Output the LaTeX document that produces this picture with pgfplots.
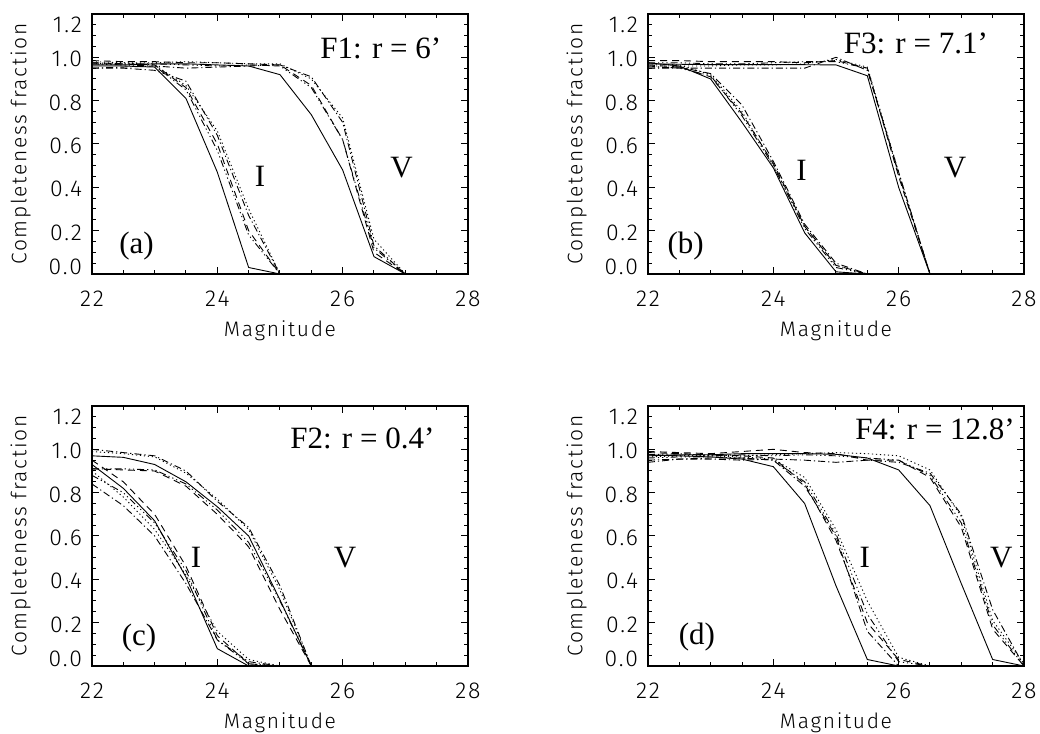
\documentclass[border=0pt]{standalone}
\usepackage{pgfplots}
\pgfplotsset{compat=1.18}
\usepackage{pgfplotstable}
\usepackage{fontspec}
\newfontfamily\idl{Fira Sans Light}[LetterSpace=8]
\newfontfamily\tms{Liberation Serif}

\newcommand\uplbl[1]{\raisebox{4.5pt}[\height][\depth]{#1}}
\newcommand\dnlbl[1]{\raisebox{-4.5pt}[\height][\depth]{#1}}

% columns: I and V bands, five curves each
% s = solid, d = dashed, a = dash-dot, o = dotted, x = dash-dot-dot-dot
\pgfplotstableread{
mag   Is    Id    Ia    Io    Ix    Vs    Vd    Va    Vo    Vx
22.0  0.960 0.975 0.950 0.980 0.970 0.965 0.985 0.950 0.970 0.975
22.5  0.960 0.970 0.950 0.975 0.965 0.965 0.980 0.955 0.975 0.970
23.0  0.955 0.965 0.940 0.965 0.960 0.970 0.980 0.960 0.975 0.970
23.5  0.810 0.860 0.890 0.870 0.850 0.970 0.975 0.950 0.980 0.965
24.0  0.470 0.600 0.640 0.660 0.570 0.965 0.975 0.955 0.975 0.960
24.5  0.030 0.200 0.270 0.300 0.180 0.960 0.970 0.960 0.970 0.965
25.0  0.000 0.000 0.000 0.000 0.000 0.920 0.965 0.965 0.970 0.960
25.5  0.000 0.000 0.000 0.000 0.000 0.735 0.870 0.910 0.900 0.860
26.0  0.000 0.000 0.000 0.000 0.000 0.480 0.620 0.700 0.720 0.620
26.5  0.000 0.000 0.000 0.000 0.000 0.080 0.100 0.130 0.160 0.120
27.0  0.000 0.000 0.000 0.000 0.000 0.000 0.000 0.000 0.000 0.000
28.0  0.000 0.000 0.000 0.000 0.000 0.000 0.000 0.000 0.000 0.000
}\fone

\pgfplotstableread{
mag   Is    Id    Ia    Io    Ix    Vs    Vd    Va    Vo    Vx
22.0  0.975 0.965 0.950 0.970 0.960 0.970 0.985 0.950 0.960 0.975
22.5  0.960 0.955 0.955 0.965 0.950 0.968 0.985 0.950 0.960 0.975
23.0  0.900 0.910 0.925 0.920 0.915 0.966 0.980 0.950 0.960 0.970
23.5  0.700 0.740 0.780 0.750 0.730 0.966 0.980 0.950 0.965 0.970
24.0  0.490 0.510 0.520 0.500 0.500 0.966 0.980 0.950 0.965 0.975
24.5  0.190 0.220 0.230 0.220 0.210 0.966 0.975 0.950 0.970 0.980
25.0  0.010 0.040 0.050 0.040 0.030 0.965 0.985 1.000 0.990 0.980
25.5  0.000 0.000 0.000 0.000 0.000 0.915 0.950 0.940 0.955 0.950
26.0  0.000 0.000 0.000 0.000 0.000 0.400 0.450 0.470 0.470 0.460
26.5  0.000 0.000 0.000 0.000 0.000 0.000 0.000 0.000 0.000 0.000
28.0  0.000 0.000 0.000 0.000 0.000 0.000 0.000 0.000 0.000 0.000
}\fthree

\pgfplotstableread{
mag   Is    Id    Ia    Io    Ix    Vs    Vd    Va    Vo    Vx
22.0  0.930 0.950 0.840 0.900 0.880 0.970 0.910 1.000 0.990 0.910
22.5  0.820 0.850 0.740 0.780 0.800 0.963 0.905 0.985 0.980 0.910
23.0  0.670 0.700 0.600 0.630 0.660 0.930 0.900 0.970 0.965 0.905
23.5  0.410 0.460 0.380 0.420 0.440 0.850 0.830 0.900 0.890 0.840
24.0  0.080 0.140 0.120 0.160 0.120 0.735 0.700 0.760 0.770 0.720
24.5  0.000 0.010 0.020 0.030 0.010 0.600 0.550 0.640 0.630 0.570
25.0  0.000 0.000 0.000 0.000 0.000 0.305 0.260 0.370 0.350 0.300
25.5  0.000 0.000 0.000 0.000 0.000 0.000 0.000 0.000 0.000 0.000
28.0  0.000 0.000 0.000 0.000 0.000 0.000 0.000 0.000 0.000 0.000
}\ftwo

\pgfplotstableread{
mag   Is    Id    Ia    Io    Ix    Vs    Vd    Va    Vo    Vx
22.0  0.975 0.985 0.950 0.970 0.960 0.970 0.990 0.940 0.965 0.975
22.5  0.970 0.980 0.955 0.970 0.965 0.975 0.985 0.955 0.970 0.980
23.0  0.965 0.975 0.960 0.970 0.965 0.975 0.980 0.955 0.975 0.970
23.5  0.955 0.970 0.960 0.965 0.960 0.980 0.990 0.950 0.970 0.975
24.0  0.920 0.960 0.950 0.955 0.950 0.980 1.000 0.955 0.975 0.970
24.5  0.750 0.840 0.830 0.870 0.850 0.980 0.985 0.950 0.980 0.975
25.0  0.370 0.580 0.600 0.630 0.610 0.977 0.980 0.940 0.985 0.970
25.5  0.030 0.200 0.160 0.300 0.240 0.960 0.950 0.950 0.980 0.960
26.0  0.000 0.030 0.000 0.040 0.020 0.905 0.950 0.940 0.970 0.950
26.5  0.000 0.000 0.000 0.000 0.000 0.740 0.870 0.890 0.905 0.880
27.0  0.000 0.000 0.000 0.000 0.000 0.380 0.640 0.700 0.690 0.660
27.5  0.000 0.000 0.000 0.000 0.000 0.030 0.170 0.260 0.210 0.190
28.0  0.000 0.000 0.000 0.000 0.000 0.000 0.000 0.000 0.010 0.000
}\ffour

\pgfplotsset{
  panel/.style={
    scale only axis, width=188pt, height=130pt, anchor=south west,
    xmin=22, xmax=28, ymin=0, ymax=1.2,
    xtick={22,24,26,28}, xticklabels={22,24,26,28},
    ytick={0,0.2,0.4,0.6,0.8,1.0,1.2},
    yticklabels={\uplbl{0.0},0.2,0.4,0.6,0.8,1.0,\dnlbl{1.2}},
    minor x tick num=3, minor y tick num=3,
    xtick pos=both, ytick pos=both,
    xticklabel pos=lower, yticklabel pos=left,
    tick align=inside, major tick length=3.5pt, minor tick length=2pt,
    axis line style={line width=0.6pt},
    every tick/.style={black, line width=0.5pt},
    tick label style={font=\idl\fontsize{11.5}{13}\selectfont},
    xticklabel style={yshift=-5pt},
    yticklabel style={xshift=-1.5pt, yshift=-1pt},
    xlabel={Magnitude}, ylabel={Completeness fraction},
    label style={font=\idl\fontsize{10.5}{12}\selectfont},
    xlabel style={at={(axis description cs:0.5,0)}, anchor=north, yshift=-20pt},
    ylabel style={at={(axis description cs:-0.19,0.5)}, anchor=center},
    every axis plot/.append style={black, line width=0.45pt},
  },
  sd/.style={dash pattern=on 3.5pt off 2.5pt},
  sa/.style={dash pattern=on 3.5pt off 1.5pt on 0.6pt off 1.5pt},
  so/.style={dash pattern=on 0.6pt off 1.4pt},
  sx/.style={dash pattern=on 3.5pt off 1.5pt on 0.6pt off 1.5pt on 0.6pt off 1.5pt on 0.6pt off 1.5pt},
}

\newcommand\curves[1]{%
  \addplot[solid] table[x=mag, y=Is] {#1};
  \addplot[sd] table[x=mag, y=Id] {#1};
  \addplot[sa] table[x=mag, y=Ia] {#1};
  \addplot[so] table[x=mag, y=Io] {#1};
  \addplot[sx] table[x=mag, y=Ix] {#1};
  \addplot[solid] table[x=mag, y=Vs] {#1};
  \addplot[sd] table[x=mag, y=Vd] {#1};
  \addplot[sa] table[x=mag, y=Va] {#1};
  \addplot[so] table[x=mag, y=Vo] {#1};
  \addplot[sx] table[x=mag, y=Vx] {#1};
}
\newcommand\txt{\tms\fontsize{15.5}{18}\selectfont}
\newcommand\ttl{\tms\fontsize{15.5}{18}\selectfont}

\begin{document}
\begin{tikzpicture}
\useasboundingbox (0,0) rectangle (520pt,367pt);

\begin{axis}[panel, at={(46pt,230pt)}]
  \curves{\fone}
  \node[anchor=east, font=\ttl, inner sep=0pt] at (axis cs:27.58,1.04) {F1: r = 6’};
  \node[font=\txt] at (axis cs:24.68,0.45) {I};
  \node[font=\txt] at (axis cs:26.94,0.49) {V};
  \node[font=\txt] at (axis cs:22.71,0.13) {(a)};
\end{axis}

\begin{axis}[panel, at={(324pt,230pt)}]
  \curves{\fthree}
  \node[anchor=east, font=\ttl, inner sep=0pt] at (axis cs:27.43,1.065) {F3: r = 7.1’};
  \node[font=\txt] at (axis cs:24.45,0.48) {I};
  \node[font=\txt] at (axis cs:26.9,0.49) {V};
  \node[font=\txt] at (axis cs:22.6,0.13) {(b)};
\end{axis}

\begin{axis}[panel, at={(46pt,34pt)}]
  \curves{\ftwo}
  \node[anchor=east, font=\ttl, inner sep=0pt] at (axis cs:27.47,1.05) {F2: r = 0.4’};
  \node[font=\txt] at (axis cs:23.66,0.5) {I};
  \node[font=\txt] at (axis cs:26.04,0.5) {V};
  \node[font=\txt] at (axis cs:22.75,0.13) {(c)};
\end{axis}

\begin{axis}[panel, at={(324pt,34pt)}]
  \curves{\ffour}
  \node[anchor=east, font=\ttl, inner sep=0pt] at (axis cs:27.86,1.09) {F4: r = 12.8’};
  \node[font=\txt] at (axis cs:25.46,0.5) {I};
  \node[font=\txt] at (axis cs:27.64,0.5) {V};
  \node[font=\txt] at (axis cs:22.78,0.135) {(d)};
\end{axis}
\end{tikzpicture}
\end{document}
